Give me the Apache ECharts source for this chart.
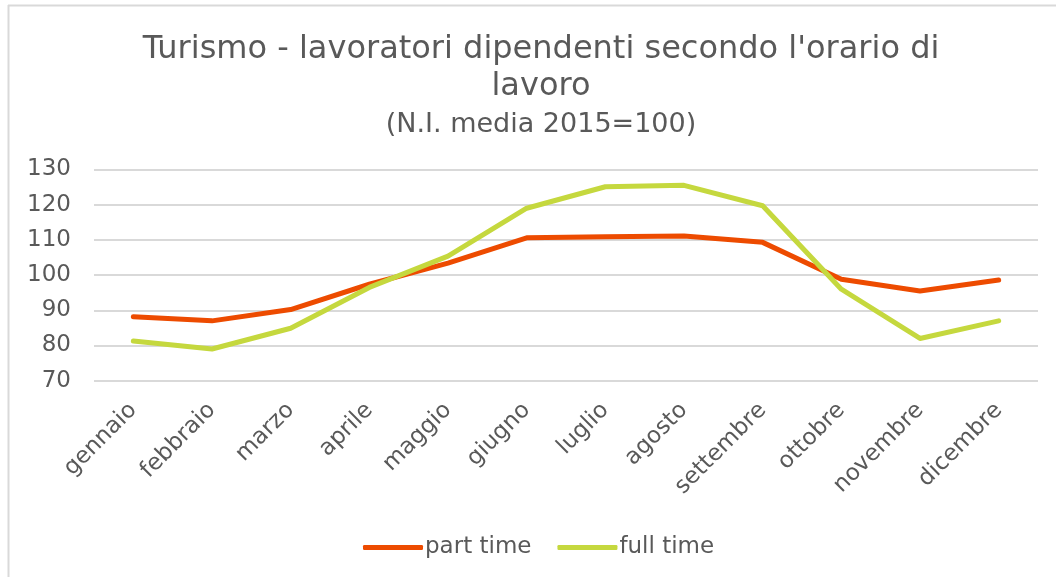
<!DOCTYPE html>
<html>
<head>
<meta charset="utf-8">
<script src="https://cdn.jsdelivr.net/npm/echarts@6/dist/echarts.min.js"></script>
<style>
  html, body { margin: 0; padding: 0; background: #fff; }
  #chart { width: 1056px; height: 577px; }
</style>
</head>
<body>
<div id="chart"></div>
<script>
// months on the x axis
const mesi = ['gennaio', 'febbraio', 'marzo', 'aprile', 'maggio', 'giugno',
  'luglio', 'agosto', 'settembre', 'ottobre', 'novembre', 'dicembre']

// values (N.I. media 2015=100)
const partTime = [88.2, 87.0, 90.2, 97.4, 103.4, 110.6, 110.9, 111.1, 109.3, 98.8, 95.5, 98.6]
const fullTime = [81.3, 79.0, 84.9, 96.5, 105.4, 119.0, 125.1, 125.5, 119.7, 96.0, 82.0, 87.0]

const yMin = 70
const yMax = 130
const yStep = 10

const textColor = '#595959'
const font = 'DejaVu Sans'

const myChart = echarts.init(document.getElementById('chart'))

const option = {
  animation: false,
  textStyle: { fontFamily: font },
  title: {
    text: "Turismo - lavoratori dipendenti secondo l'orario di\nlavoro",
    subtext: '(N.I. media 2015=100)',
    left: 536,
    textAlign: 'center',
    top: 26,
    itemGap: 4,
    textStyle: {
      fontFamily: font,
      fontSize: 32,
      fontWeight: 'normal',
      color: textColor,
      lineHeight: 37
    },
    subtextStyle: {
      fontFamily: font,
      fontSize: 27,
      color: textColor,
      lineHeight: 32
    }
  },
  legend: {
    data: ['part time', 'full time'],
    left: 358,
    top: 531,
    icon: 'roundRect',
    itemWidth: 60,
    itemHeight: 5,
    itemGap: 26,
    textStyle: {
      fontFamily: font,
      fontSize: 23,
      color: textColor,
      padding: [0, 0, 0, -3]
    }
  },
  grid: {
    left: 94,
    right: 18,
    top: 169.5,
    bottom: 196.3
  },
  xAxis: {
    type: 'category',
    data: mesi,
    boundaryGap: true,
    axisLine: { show: false },
    axisTick: { show: false },
    axisLabel: {
      rotate: 45,
      interval: 0,
      margin: 26,
      fontSize: 23,
      fontFamily: font,
      color: textColor
    }
  },
  yAxis: {
    type: 'value',
    min: yMin,
    max: yMax,
    interval: yStep,
    axisLine: { show: false },
    axisTick: { show: false },
    axisLabel: {
      margin: 23,
      fontSize: 23,
      fontFamily: font,
      color: textColor
    },
    splitLine: {
      lineStyle: { color: '#d9d9d9', width: 2 }
    }
  },
  graphic: [
    {
      type: 'line',
      shape: { x1: 8, y1: 5.5, x2: 1056, y2: 5.5 },
      style: { stroke: '#d9d9d9', lineWidth: 2 }
    },
    {
      type: 'line',
      shape: { x1: 8.5, y1: 5, x2: 8.5, y2: 577 },
      style: { stroke: '#d9d9d9', lineWidth: 2 }
    }
  ],
  series: [
    {
      name: 'part time',
      type: 'line',
      data: partTime,
      showSymbol: false,
      symbol: 'none',
      color: '#ED4B00',
      lineStyle: { width: 5, cap: 'round', join: 'round' }
    },
    {
      name: 'full time',
      type: 'line',
      data: fullTime,
      showSymbol: false,
      symbol: 'none',
      color: '#C5D83E',
      lineStyle: { width: 5, cap: 'round', join: 'round' }
    }
  ]
}

myChart.setOption(option)

window.onresize = function () {
  myChart.resize()
}
</script>
</body>
</html>
